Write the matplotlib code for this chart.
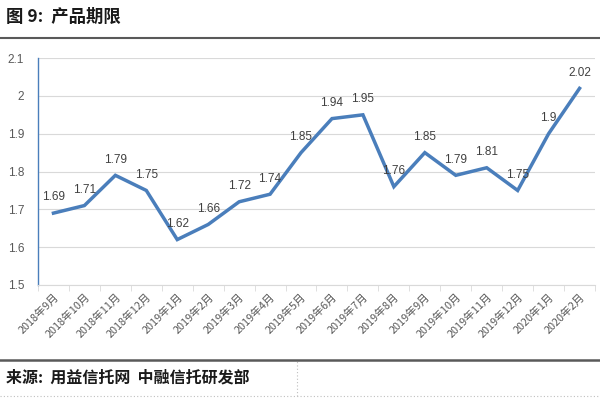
import matplotlib
matplotlib.use("Agg")
import matplotlib.pyplot as plt
from matplotlib.lines import Line2D

plt.rcParams['font.family'] = ['Noto Sans CJK SC', 'DejaVu Sans']

months = ["2018年9月", "2018年10月", "2018年11月", "2018年12月", "2019年1月", "2019年2月",
          "2019年3月", "2019年4月", "2019年5月", "2019年6月", "2019年7月", "2019年8月",
          "2019年9月", "2019年10月", "2019年11月", "2019年12月", "2020年1月", "2020年2月"]
values = [1.69, 1.71, 1.79, 1.75, 1.62, 1.66, 1.72, 1.74, 1.85, 1.94, 1.95, 1.76,
          1.85, 1.79, 1.81, 1.75, 1.9, 2.02]
yticks = [1.5, 1.6, 1.7, 1.8, 1.9, 2.0, 2.1]
ytick_labels = ["1.5", "1.6", "1.7", "1.8", "1.9", "2", "2.1"]

fig = plt.figure(figsize=(6, 3.98), dpi=100)
ax = fig.add_axes([0.0633, 0.284, 0.9284, 0.570])

x = list(range(len(months)))
ax.plot(x, values, color="#4a7ebb", lw=2.5, solid_joinstyle="miter", zorder=3)
for xi, v in zip(x, values):
    lab = f"{v:g}"
    ax.annotate(lab, (xi, v), xytext=(0, 7), textcoords="offset points",
                ha="center", va="bottom", fontsize=8.5, color="#404040",
                family=["Liberation Sans", "DejaVu Sans"])

ax.set_xlim(-0.5, len(months) - 0.5)
ax.set_ylim(1.5, 2.1)
ax.set_yticks(yticks)
ax.set_yticklabels(ytick_labels, fontsize=8.5, color="#595959",
                   family=["Liberation Sans", "DejaVu Sans"])
ax.yaxis.grid(True, color="#d9d9d9", lw=0.8)
ax.set_axisbelow(True)
ax.tick_params(axis="y", length=0, pad=10)

ax.set_xticks(x)
ax.set_xticklabels(months, rotation=45, ha="right", rotation_mode="anchor",
                   fontsize=7.8, color="#595959")
ax.tick_params(axis="x", length=0, pad=5)
ax.set_xticks([i - 0.5 for i in range(len(months) + 1)], minor=True)
ax.tick_params(axis="x", which="minor", length=4, color="#d9d9d9", direction="out")

for s in ["top", "right"]:
    ax.spines[s].set_visible(False)
ax.spines["left"].set_color("#4a7ebb")
ax.spines["left"].set_linewidth(1.0)
ax.spines["bottom"].set_color("#d9d9d9")
ax.spines["bottom"].set_linewidth(0.8)

# title
fig.text(0.01, 0.958, "图 9:  产品期限", fontsize=12.5, fontweight="bold",
         color="#1a1a1a", va="center", ha="left")
fig.add_artist(Line2D([0, 1], [1 - 38/398, 1 - 38/398], color="#595959", lw=1.5,
                      transform=fig.transFigure))
# footer
fig.add_artist(Line2D([0, 1], [1 - 360/398, 1 - 360/398], color="#595959", lw=1.8,
                      transform=fig.transFigure))
fig.text(0.01, 1 - 378/398, "来源:  用益信托网  中融信托研发部", fontsize=11.5,
         fontweight="bold", color="#1a1a1a", va="center", ha="left")
fig.add_artist(Line2D([0, 1], [1 - 396/398, 1 - 396/398], color="#bfbfbf", lw=0.8,
                      ls=(0, (1, 2)), transform=fig.transFigure))
fig.add_artist(Line2D([297/600, 297/600], [1 - 396/398, 1 - 361/398], color="#bfbfbf", lw=0.8,
                      ls=(0, (1, 2)), transform=fig.transFigure))

fig.savefig("out.png", dpi=100)
